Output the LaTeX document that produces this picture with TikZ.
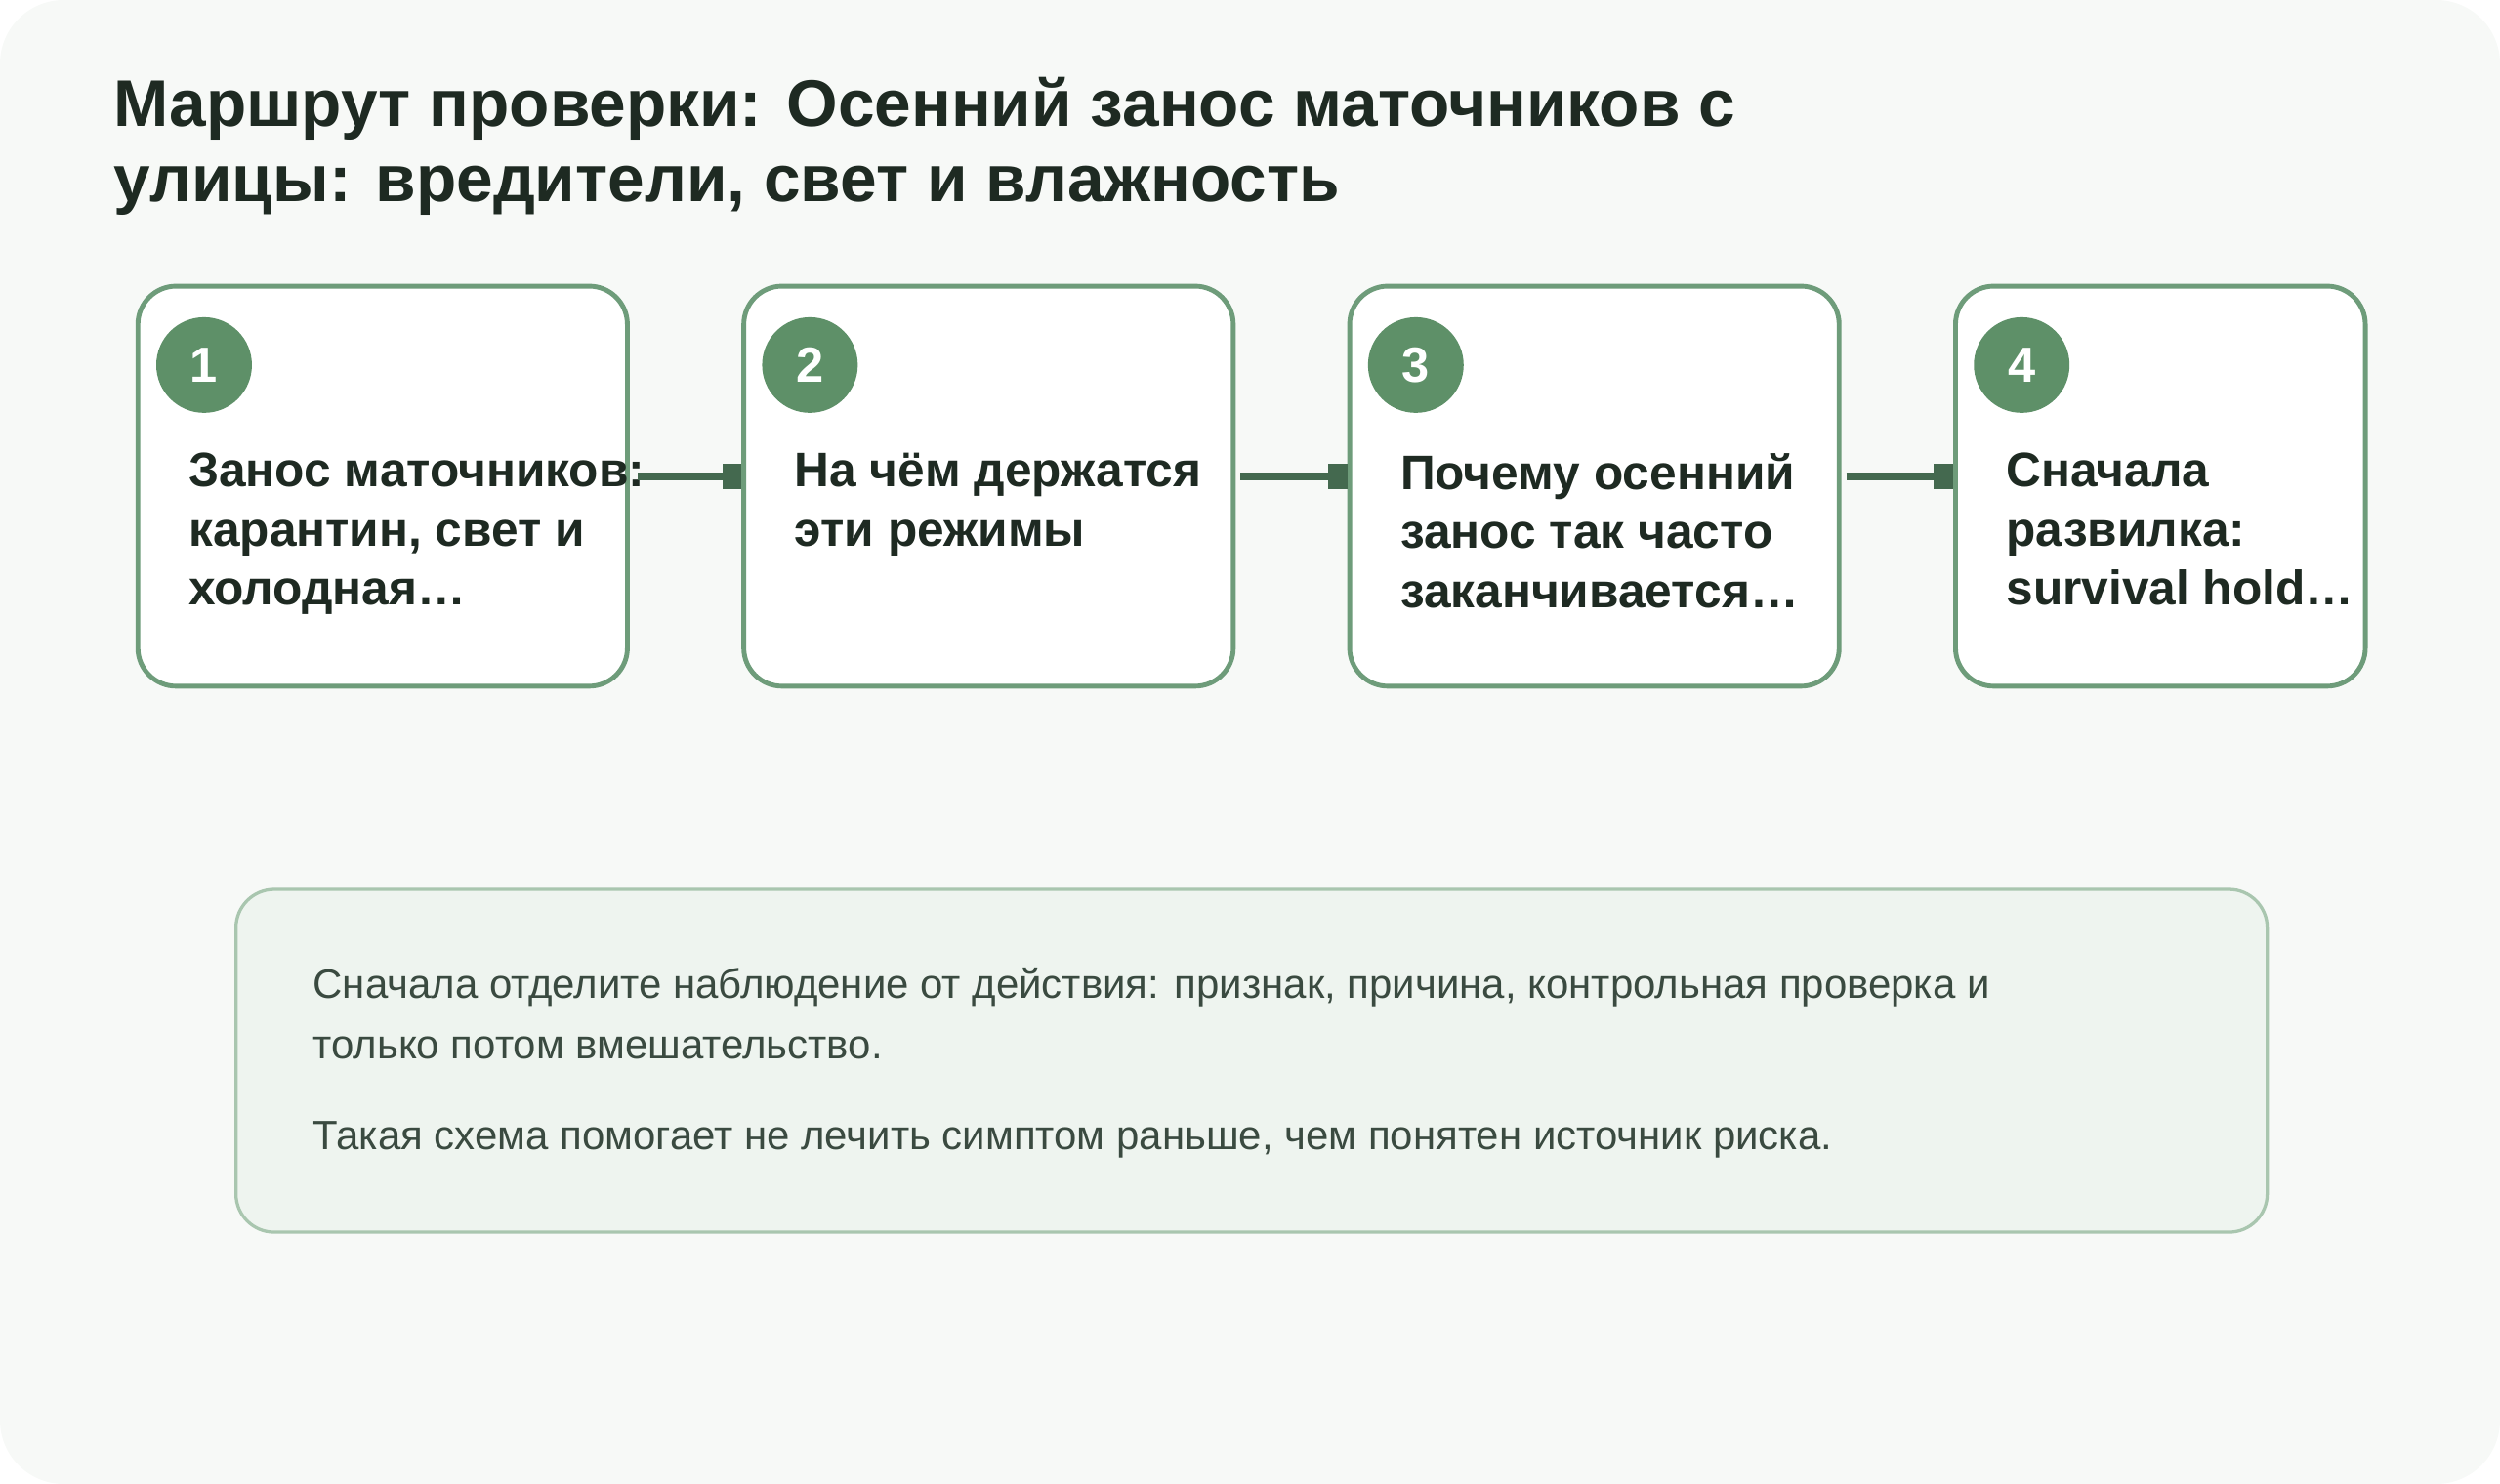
\documentclass[tikz,border=0pt]{standalone}
\usepackage{fontspec}
\setmainfont{Liberation Sans}
\usetikzlibrary{arrows.meta,positioning}
\definecolor{bgc}{HTML}{F7F9F7}
\definecolor{ink}{HTML}{1E2A22}
\definecolor{edge}{HTML}{6E9C7A}
\definecolor{dot}{HTML}{5E9068}
\definecolor{flowc}{HTML}{44694F}
\definecolor{notef}{HTML}{EEF4EF}
\definecolor{notee}{HTML}{A9C6AF}
\definecolor{notet}{HTML}{3A4A40}
\tikzset{
  stepbox/.style={draw=edge,line width=1.5pt,fill=white,rounded corners=12pt,
    minimum height=125.5pt,inner sep=0pt},
  num/.style={circle,fill=dot,minimum size=30pt,inner sep=0pt,text=white,
    font=\bfseries\fontsize{15.5}{15.5}\selectfont},
  steptext/.style={anchor=north west,align=left,text=ink,inner sep=0pt,
    font=\bfseries\fontsize{15.2}{18.5}\selectfont},
  flow/.style={draw=flowc,line width=2.5pt,-{Square[length=6pt,width=8pt]}},
}
\begin{document}
\begin{tikzpicture}[x=0.5pt,y=-0.5pt]
  \fill[bgc,rounded corners=20pt] (0,0) rectangle (1568,931);
  \useasboundingbox (0,0) rectangle (1568,931);

  \node[anchor=north west,align=left,text=ink,inner sep=0pt,
    font=\bfseries\fontsize{20.7}{23.5}\selectfont] (title) at (71,48)
    {Маршрут проверки: Осенний занос маточников с\\улицы: вредители, свет и влажность};

  % steps
  \node[stepbox,anchor=north west,minimum width=153.5pt] (b1) at (85,178) {};
  \node[stepbox,anchor=north west,minimum width=153.5pt] (b2) at (465,178) {};
  \node[stepbox,anchor=north west,minimum width=153.5pt] (b3) at (845,178) {};
  \node[stepbox,anchor=north west,minimum width=128.5pt] (b4) at (1225,178) {};

  \node[num] (n1) at (128,229) {1};
  \node[num] (n2) at (508,229) {2};
  \node[num] (n3) at (888,229) {3};
  \node[num] (n4) at (1268,229) {4};

  \node[steptext] (t1) at (118,284) {Занос маточников:\\карантин, свет и\\холодная…};
  \node[steptext] (t2) at (498,284) {На чём держатся\\эти режимы};
  \node[steptext] (t3) at (878,284) {Почему осенний\\занос так часто\\заканчивается…};
  \node[steptext] (t4) at (1258,284) {Сначала\\развилка:\\survival hold…};

  \coordinate (a1) at (400,299);
  \coordinate (a2) at (778,299);
  \coordinate (a3) at (1158,299);
  \draw[flow] (a1) -- (b2.west |- a1);
  \draw[flow] (a2) -- (b3.west |- a2);
  \draw[flow] (a3) -- (b4.west |- a3);

  % note
  \node[draw=notee,fill=notef,line width=1pt,rounded corners=12pt,anchor=north west,
    minimum width=637pt,minimum height=107.5pt] (note) at (147,557) {};
  \node[anchor=north west,align=left,text=notet,inner sep=0pt,
    font=\fontsize{12.85}{19}\selectfont] (nt1) at (196,607)
    {Сначала отделите наблюдение от действия: признак, причина, контрольная проверка и\\только потом вмешательство.};
  \node[anchor=north west,align=left,text=notet,inner sep=0pt,
    font=\fontsize{12.85}{19}\selectfont] (nt2) at (196,703)
    {Такая схема помогает не лечить симптом раньше, чем понятен источник риска.};
\end{tikzpicture}
\end{document}
